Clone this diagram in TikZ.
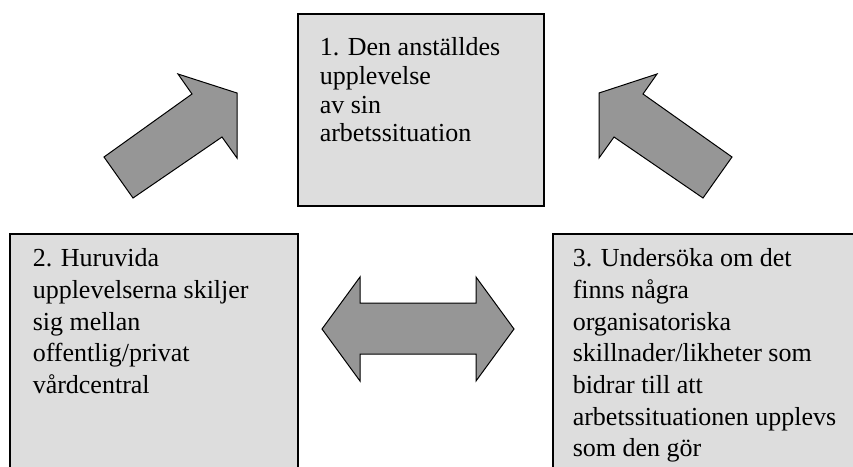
\documentclass[tikz,border=0pt]{standalone}
\usepackage{fontspec}
\setmainfont{Liberation Serif}
\definecolor{panelgray}{RGB}{221, 221, 221}
\definecolor{arrowgray}{RGB}{150, 150, 150}
\tikzset{
  panel/.style={draw=black, fill=panelgray, line width=1.5pt, anchor=north west,
                inner ysep=0pt, align=left},
  blockarrow/.style={draw=black, fill=arrowgray, line width=1pt, line join=miter}
}

\begin{document}
\begin{tikzpicture}[x=1pt, y=-1pt]
            % Page frame
            \clip                                   (0, 0) rectangle (853, 466);
            \fill[white]                            (0, 0) rectangle (853, 466);
            % Question 1
            \node[panel, inner xsep=22pt] (experience) at (297, 13)
                 {\parbox[t][192pt][t]{202pt}{\fontsize{26}{28.7}\selectfont
                  \rule{0pt}{42pt}1. Den anställdes\\upplevelse\\av sin\\arbetssituation}};
            % Question 2
            \node[panel, inner xsep=23pt] (difference) at (9, 233)
                 {\parbox[t][260pt][t]{242pt}{\fontsize{26}{31.7}\selectfont
                  \rule{0pt}{33pt}2. Huruvida\\upplevelserna skiljer\\sig mellan\\offentlig/privat\\vårdcentral}};
            % Question 3
            \node[panel, inner xsep=20pt] (organisation) at (552, 233)
                 {\parbox[t][260pt][t]{290pt}{\fontsize{26}{31.7}\selectfont
                  \rule{0pt}{33pt}3. Undersöka om det\\finns några\\organisatoriska\\skillnader/likheter som\\bidrar till att\\arbetssituationen upplevs\\som den gör}};
            % Arrow up to the right
            \draw[blockarrow] (104, 157) -- (192,  94) -- (178,  74) -- (237,  93)
                           -- (237, 158) -- (222, 137) -- (133, 198) -- cycle;
            % Arrow up to the left
            \draw[blockarrow] (732, 157) -- (643,  94) -- (657,  74) -- (599,  93)
                           -- (599, 158) -- (614, 137) -- (703, 198) -- cycle;
            % Arrow both ways
            \draw[blockarrow] (322, 329) -- (360, 277) -- (360, 303) -- (476, 303) -- (476, 277)
                           -- (514, 329) -- (476, 381) -- (476, 354) -- (360, 354) -- (360, 381) -- cycle;
\end{tikzpicture}
\end{document}
